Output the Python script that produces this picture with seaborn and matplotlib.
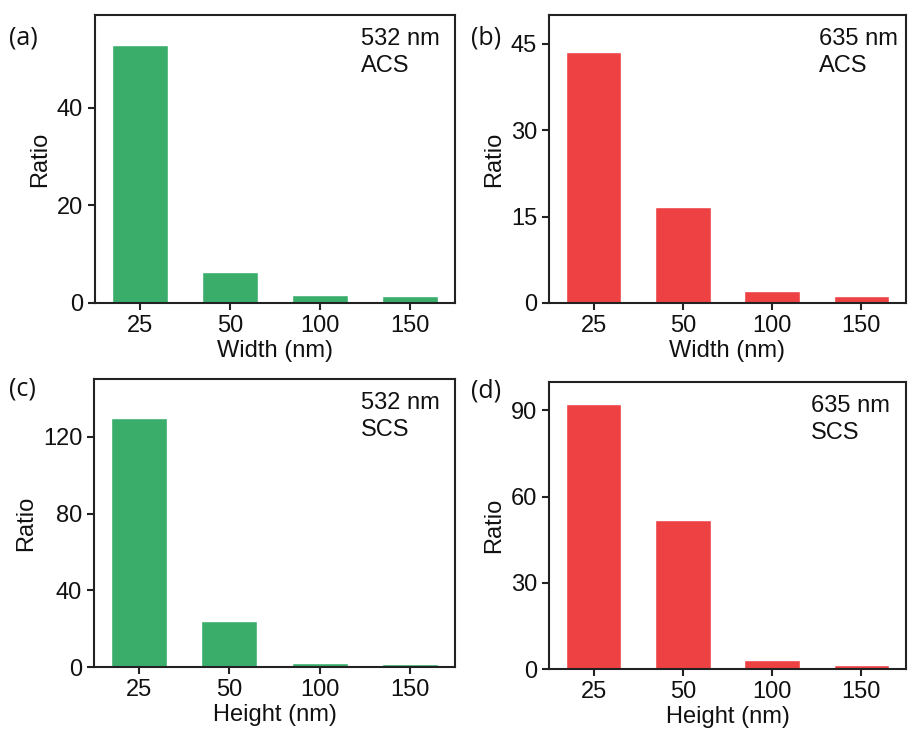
import pandas as pd
import matplotlib.pyplot as plt
import seaborn as sns

# данные
sizes = ['25', '50', '100', '150']
ratio_a = [52.9, 6.3, 1.6, 1.4]     # 532 nm, ACS, width
ratio_b = [43.5, 16.7, 2.1, 1.2]    # 635 nm, ACS, width
ratio_c = [130.0, 24.1, 2.1, 1.9]   # 532 nm, SCS, height
ratio_d = [92.2, 51.8, 3.3, 1.4]    # 635 nm, SCS, height

green = '#3aad6b'
red = '#ee4143'

sns.set_theme(style='ticks')
plt.rcParams['font.family'] = ['Liberation Sans', 'DejaVu Sans']
plt.rcParams['text.color'] = '#111111'
plt.rcParams['axes.labelcolor'] = '#111111'
plt.rcParams['axes.linewidth'] = 1.5
plt.rcParams['xtick.major.width'] = 1.5
plt.rcParams['ytick.major.width'] = 1.5
plt.rcParams['xtick.major.size'] = 5
plt.rcParams['ytick.major.size'] = 5

fig = plt.figure(figsize=(9.08, 7.34), dpi=100)

panels = [
    # (позиция осей, значения, цвет, подпись x, ylim, yticks, текст, x текста, буква, позиция буквы)
    ([0.1046, 0.5872, 0.3965, 0.3924], ratio_a, green, 'Width (nm)', 59, [0, 20, 40],
     '532 nm\nACS', 0.74, '(a)', (0.010, 0.965)),
    ([0.6046, 0.5872, 0.3932, 0.3924], ratio_b, red, 'Width (nm)', 50, [0, 15, 30, 45],
     '635 nm\nACS', 0.756, '(b)', (0.519, 0.965)),
    ([0.1035, 0.0909, 0.3976, 0.3923], ratio_c, green, 'Height (nm)', 150, [0, 40, 80, 120],
     '532 nm\nSCS', 0.74, '(c)', (0.010, 0.487)),
    ([0.6046, 0.0882, 0.3932, 0.3918], ratio_d, red, 'Height (nm)', 100, [0, 30, 60, 90],
     '635 nm\nSCS', 0.735, '(d)', (0.519, 0.485)),
]

for pos, vals, col, xlab, ytop, yt, txt, tx, letter, lpos in panels:
    ax = fig.add_axes(pos)
    df = pd.DataFrame({'size': sizes, 'ratio': vals})
    sns.barplot(data=df, x='size', y='ratio', color=col, saturation=1,
                width=0.62, ax=ax)
    ax.set_xlim(-0.5, 3.5)
    ax.set_ylim(0, ytop)
    ax.set_yticks(yt)
    ax.set_xlabel(xlab, fontsize=17, labelpad=2)
    ax.set_ylabel('Ratio', fontsize=17, labelpad=4)
    ax.tick_params(labelsize=17, direction='out', colors='#222222', labelcolor='#111111')
    for s in ax.spines.values():
        s.set_visible(True)
        s.set_color('#222222')
    ax.text(tx, 0.955, txt, transform=ax.transAxes, ha='left', va='top',
            fontsize=17, linespacing=1.3)
    fig.text(lpos[0], lpos[1], letter, ha='left', va='top', fontsize=18,
             family=['Open Sans', 'DejaVu Sans'])

plt.savefig('out.png', dpi=100)
